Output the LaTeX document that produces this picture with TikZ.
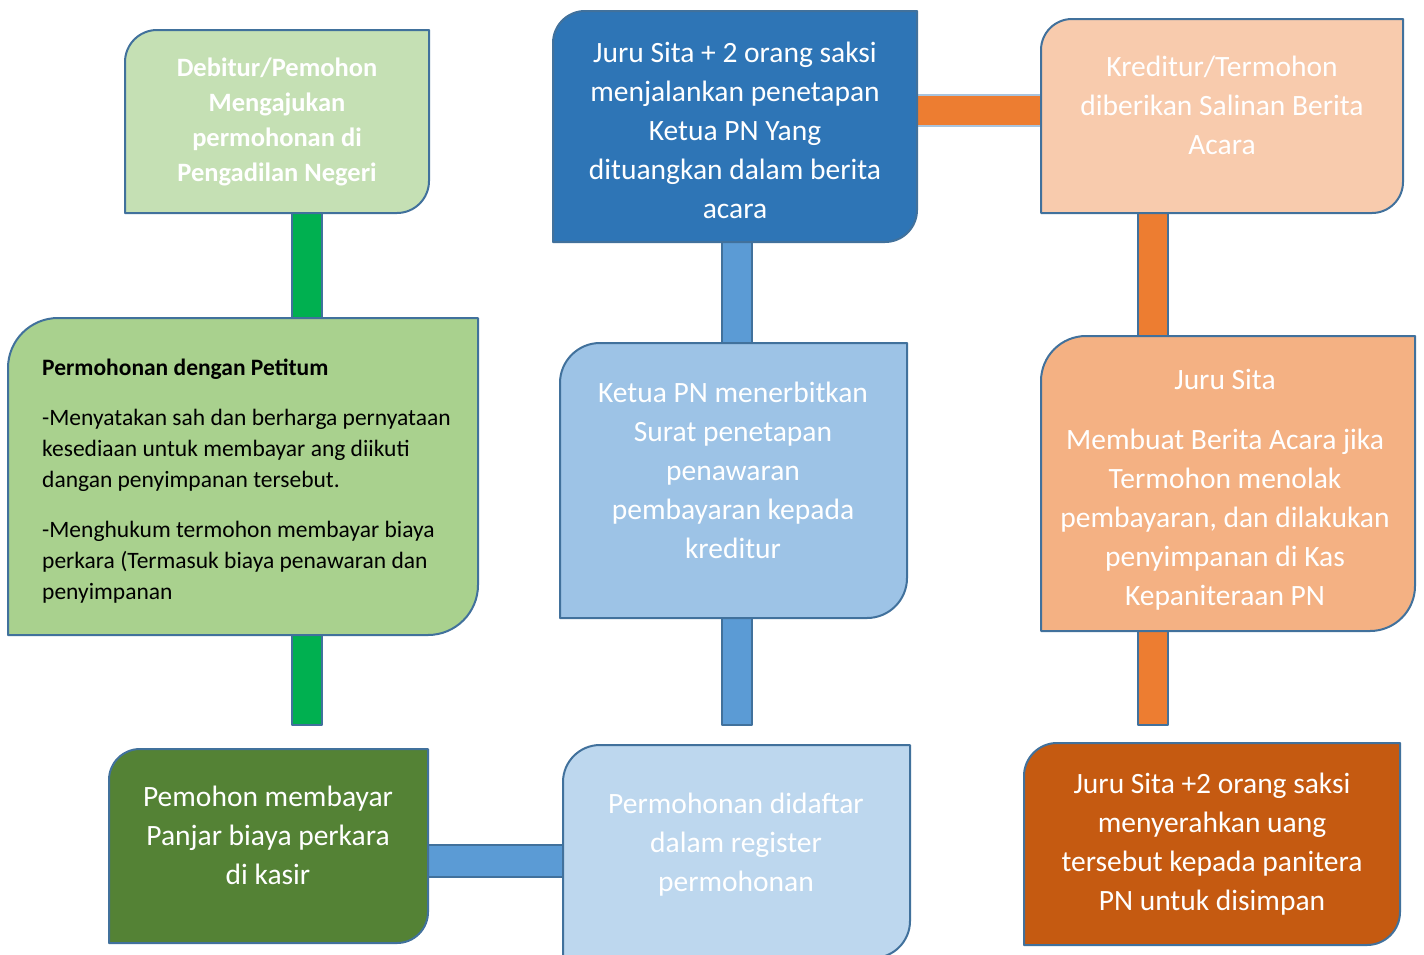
\documentclass[tikz,border=0pt]{standalone}
\usepackage{fontspec}
\setmainfont{Carlito}
\usetikzlibrary{calc}
\definecolor{edge}{HTML}{41719C}
\definecolor{edgelight}{HTML}{A9C4DE}
\definecolor{cA}{HTML}{C5E0B4}
\definecolor{cB}{HTML}{A9D18E}
\definecolor{cC}{HTML}{548235}
\definecolor{cD}{HTML}{BDD7EE}
\definecolor{cE}{HTML}{9DC3E6}
\definecolor{cF}{HTML}{2E75B6}
\definecolor{cG}{HTML}{F8CBAD}
\definecolor{cH}{HTML}{F4B183}
\definecolor{cI}{HTML}{C55A11}
\definecolor{gbar}{HTML}{00B050}
\definecolor{bbar}{HTML}{5B9BD5}
\definecolor{obar}{HTML}{ED7D31}
\newcommand\diagshape[3]{%
  \draw[boxline, fill=#2]
    ($(#1.north west)+(0,#3)$) .. controls ($(#1.north west)+(0,0.448*#3)$) and ($(#1.north west)+(0.448*#3,0)$) .. ($(#1.north west)+(#3,0)$)
    -- (#1.north east)
    -- ($(#1.south east)+(0,-#3)$) .. controls ($(#1.south east)+(0,-0.448*#3)$) and ($(#1.south east)+(-0.448*#3,0)$) .. ($(#1.south east)+(-#3,0)$)
    -- (#1.south west) -- cycle;}
\begin{document}
\begin{tikzpicture}[x=1pt,y=-1pt,
  boxline/.style={draw=edge, line width=2pt, line join=round},
  barpath/.style={boxline, fill=#1},
  boxarea/.style={inner sep=0pt, outer sep=0pt, draw=none},
  lbl/.style={text=white, align=center, inner sep=0pt, font=\fontsize{29.5}{39}\selectfont}]
\fill[white] (0,0) rectangle (1424,954);
\useasboundingbox (0,0) rectangle (1424,954);

% box areas
\node[boxarea, minimum width=304pt, minimum height=183pt] (b1) at (277,121.5) {};
\node[boxarea, minimum width=470pt, minimum height=317pt] (b2) at (243,476.5) {};
\node[boxarea, minimum width=319pt, minimum height=194pt] (b3) at (268.5,846) {};
\node[boxarea, minimum width=347pt, minimum height=213pt] (b4) at (736.5,851.5) {};
\node[boxarea, minimum width=347pt, minimum height=275pt] (b5) at (733.5,480.5) {};
\node[boxarea, minimum width=364pt, minimum height=231pt] (b6) at (735,126.5) {};
\node[boxarea, minimum width=362pt, minimum height=194pt] (b7) at (1222,116) {};
\node[boxarea, minimum width=374pt, minimum height=295pt] (b8) at (1228,483.5) {};
\node[boxarea, minimum width=376pt, minimum height=202pt] (b9) at (1212,844) {};

% connectors
\coordinate (g2end) at (322,725);
\coordinate (bv2end) at (752,725);
\coordinate (ov2end) at (1168,725);
\draw[barpath=gbar] ($(b1.south)+(15,0)$) rectangle ($(b2.north)+(79,0)$);
\draw[barpath=gbar] ($(b2.south)+(49,0)$) rectangle (g2end);
\draw[barpath=bbar] ($(b6.south)+(-13,0)$) rectangle ($(b5.north)+(18.5,0)$);
\draw[barpath=bbar] ($(b5.south)+(-11.5,0)$) rectangle (bv2end);
\draw[barpath=bbar] ($(b3.east)+(0,-1)$) rectangle ($(b4.west)+(0,25.5)$);
\draw[barpath=obar, draw=edgelight] ($(b6.east)+(0,-31.5)$) rectangle ($(b7.west)+(0,10)$);
\draw[barpath=obar] ($(b7.south)+(-84,0)$) rectangle ($(b8.north)+(-60,0)$);
\draw[barpath=obar] ($(b8.south)+(-90,0)$) rectangle (ov2end);

% box shapes
\diagshape{b1}{cA}{32}
\diagshape{b2}{cB}{50}
\diagshape{b3}{cC}{31}
\diagshape{b4}{cD}{37}
\diagshape{b5}{cE}{40}
\diagshape{b6}{cF}{32}
\diagshape{b7}{cG}{31}
\diagshape{b8}{cH}{45}
\diagshape{b9}{cI}{33}

% texts
\node[lbl, font=\bfseries\fontsize{26.5}{35}\selectfont] (t1) at (277,122)
  {Debitur/Pemohon\\Mengajukan\\permohonan di\\Pengadilan Negeri};
\node[anchor=west, align=left, text=black, inner sep=0pt, font=\fontsize{23.5}{31}\selectfont] (t2) at (42,481)
  {\textbf{Permohonan dengan Petitum}\\[19pt]-Menyatakan sah dan berharga pernyataan\\kesediaan untuk membayar ang diikuti\\dangan penyimpanan tersebut.\\[19pt]-Menghukum termohon membayar biaya\\perkara (Termasuk biaya penawaran dan\\penyimpanan};
\node[lbl] (t3) at (268,835) {Pemohon membayar\\Panjar biaya perkara\\di kasir};
\node[lbl] (t4) at (736,845) {Permohonan didaftar\\dalam register\\permohonan};
\node[lbl] (t5) at (733,470) {Ketua PN menerbitkan\\Surat penetapan\\penawaran\\pembayaran kepada\\kreditur};
\node[lbl] (t6) at (735,130) {Juru Sita + 2 orang saksi\\menjalankan penetapan\\Ketua PN Yang\\dituangkan dalam berita\\acara};
\node[lbl] (t7) at (1222,105) {Kreditur/Termohon\\diberikan Salinan Berita\\Acara};
\node[lbl] (t8) at (1225,490) {Juru Sita\\[21pt]Membuat Berita Acara jika\\Termohon menolak\\pembayaran, dan dilakukan\\penyimpanan di Kas\\Kepaniteraan PN};
\node[lbl] (t9) at (1212,844) {Juru Sita +2 orang saksi\\menyerahkan uang\\tersebut kepada panitera\\PN untuk disimpan};
\end{tikzpicture}
\end{document}
